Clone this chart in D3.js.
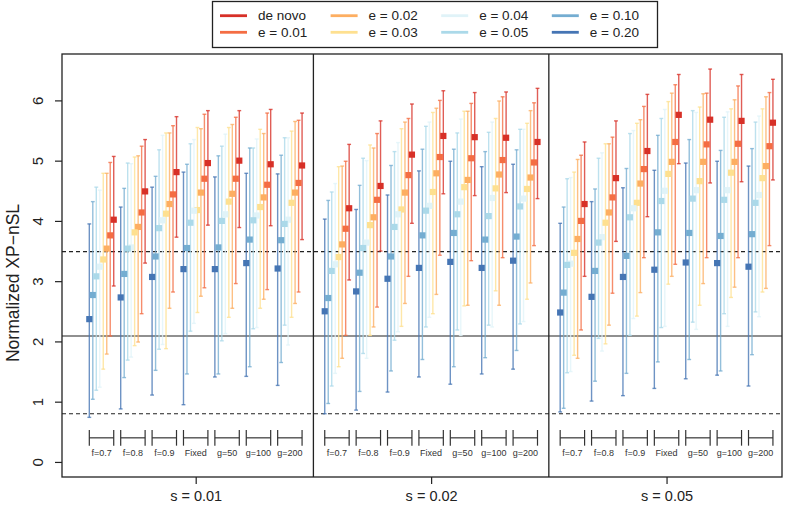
<!DOCTYPE html>
<html><head><meta charset="utf-8">
<script src="https://cdn.jsdelivr.net/npm/d3@7"></script>
<style>
html,body{margin:0;padding:0;background:#fff;}
svg{display:block;font-family:"Liberation Sans",Arial,Helvetica,sans-serif;}
</style></head>
<body><svg id="chart" width="800" height="507"></svg>
<script>
// ---------- data ----------
const seriesNames = ["de novo","e = 0.01","e = 0.02","e = 0.03","e = 0.04","e = 0.05","e = 0.10","e = 0.20"];
const seriesColors = ["#d73027","#f46d43","#fdae61","#fee090","#e0f3f8","#abd9e9","#74add1","#4575b4"];
const panelLabels = ["s = 0.01","s = 0.02","s = 0.05"];
const groupLabels = ["f=0.7","f=0.8","f=0.9","Fixed","g=50","g=100","g=200"];
const yTicks = [0,1,2,3,4,5,6];
const refSolid = 2.09;
const refDashed = [3.49, 0.80];

// each row: one group; values in series order (de novo ... e = 0.20)
const meanS1 = [
  [4.02,3.76,3.54,3.36,3.24,3.08,2.77,2.37],
  [4.49,4.14,3.90,3.81,3.56,3.54,3.12,2.73],
  [4.81,4.44,4.28,4.12,4.01,3.88,3.41,3.07],
  [4.96,4.70,4.47,4.18,4.17,3.97,3.55,3.20],
  [5.00,4.70,4.45,4.32,4.11,4.00,3.56,3.20],
  [4.94,4.60,4.39,4.23,4.09,4.01,3.69,3.30],
  [4.92,4.63,4.47,4.30,4.02,3.95,3.68,3.21]];
const hiS1 = [
  [5.07,4.97,4.79,4.79,4.51,4.56,4.32,3.95],
  [5.35,5.24,5.08,5.06,4.95,4.96,4.54,4.23],
  [5.73,5.58,5.46,5.46,5.42,5.18,4.74,4.56],
  [5.83,5.77,5.53,5.55,5.35,5.28,4.94,4.81],
  [5.83,5.72,5.60,5.55,5.44,5.24,5.08,4.73],
  [5.85,5.79,5.45,5.52,5.36,5.21,5.21,4.79],
  [5.79,5.67,5.65,5.49,5.38,5.38,5.09,4.78]];
const loS1 = [
  [2.92,2.09,1.79,1.54,1.24,1.19,1.04,0.74],
  [3.30,2.46,1.99,1.93,1.74,1.69,1.40,0.88],
  [3.73,2.82,2.55,1.88,1.95,1.87,1.52,1.11],
  [3.93,2.89,2.75,2.48,2.30,2.17,1.46,0.95],
  [3.89,2.96,2.55,2.40,2.13,2.01,1.46,1.41],
  [3.92,2.86,2.70,2.55,2.23,2.21,1.58,1.42],
  [3.69,2.82,2.63,2.40,1.94,2.27,1.65,1.27]];

const meanS2 = [
  [4.21,3.87,3.61,3.40,3.28,3.17,2.72,2.50],
  [4.58,4.35,4.06,3.93,3.64,3.55,3.14,2.83],
  [5.10,4.76,4.47,4.19,4.11,3.90,3.41,3.04],
  [5.41,5.06,4.79,4.48,4.25,4.17,3.76,3.22],
  [5.39,5.04,4.68,4.56,4.32,4.11,3.80,3.32],
  [5.38,5.01,4.77,4.54,4.38,4.08,3.69,3.22],
  [5.31,4.97,4.72,4.53,4.37,4.24,3.74,3.34]];
const hiS2 = [
  [5.27,4.99,4.91,4.90,4.62,4.48,4.34,4.03],
  [5.66,5.45,5.21,5.26,5.00,5.04,4.59,4.19],
  [5.94,5.70,5.64,5.53,5.30,5.15,4.92,4.43],
  [6.16,6.00,5.87,5.80,5.64,5.57,5.19,4.83],
  [6.13,5.95,5.82,5.82,5.69,5.46,5.19,4.99],
  [6.14,6.06,5.99,5.70,5.64,5.47,5.15,4.90],
  [6.20,5.96,5.83,5.62,5.52,5.52,5.18,4.94]];
const loS2 = [
  [3.02,2.10,1.72,1.58,1.47,1.26,0.97,0.80],
  [3.50,2.57,2.24,2.10,1.72,1.80,1.17,0.86],
  [3.96,3.08,2.63,2.25,2.16,2.02,1.51,1.16],
  [4.45,3.43,2.78,2.46,2.40,2.24,1.70,1.41],
  [4.42,3.34,2.60,2.59,2.10,2.19,1.58,1.29],
  [4.47,3.39,2.60,2.84,2.24,2.27,1.73,1.46],
  [4.37,3.59,2.97,2.70,2.33,2.29,1.85,1.54]];

const meanS3 = [
  [4.28,4.00,3.70,3.47,3.29,3.27,2.81,2.48],
  [4.71,4.39,4.14,3.97,3.73,3.64,3.17,2.74],
  [5.16,4.86,4.62,4.30,4.21,4.06,3.42,3.07],
  [5.76,5.31,4.98,4.78,4.50,4.33,3.81,3.19],
  [5.68,5.27,4.98,4.66,4.51,4.37,3.80,3.31],
  [5.66,5.28,4.98,4.80,4.51,4.35,3.75,3.30],
  [5.63,5.24,4.91,4.71,4.43,4.30,3.78,3.24]];
const hiS3 = [
  [5.31,5.09,5.02,4.81,4.72,4.70,4.23,3.96],
  [5.66,5.39,5.28,5.28,5.13,5.04,4.53,4.32],
  [6.10,5.90,5.68,5.62,5.50,5.45,4.87,4.55],
  [6.43,6.26,6.12,5.98,5.85,5.70,5.42,4.84],
  [6.52,6.12,6.11,5.89,5.80,5.83,5.35,4.96],
  [6.43,6.24,6.01,5.86,5.81,5.72,5.17,4.99],
  [6.35,6.13,6.06,5.86,5.74,5.64,5.20,4.91]];
const loS3 = [
  [3.08,2.19,1.72,1.77,1.50,1.48,0.89,0.83],
  [3.66,2.80,2.27,1.96,1.84,2.05,1.34,1.01],
  [4.07,3.39,2.81,2.42,2.38,2.10,1.47,1.10],
  [4.95,3.28,3.08,2.95,2.25,2.23,1.66,1.22],
  [4.63,3.39,2.96,2.60,2.20,2.32,1.70,1.38],
  [4.65,3.39,2.90,2.73,2.25,2.46,1.51,1.44],
  [4.68,3.59,2.88,2.82,2.41,2.49,1.78,1.26]];

const meanAll = [meanS1, meanS2, meanS3];
const hiAll = [hiS1, hiS2, hiS3];
const loAll = [loS1, loS2, loS3];

// ---------- layout ----------
const svg = d3.select("#chart");
const FONT = '"Liberation Sans", Arial, Helvetica, sans-serif';
const PANEL_STEP = 67.5, GROUP_STEP = 9, NS = seriesNames.length;
const pos = (p, g, k) => p * PANEL_STEP + g * GROUP_STEP + (NS - 1 - k);

const x = d3.scaleLinear().domain([-7.83, 198.6]).range([62, 782]);
const y = d3.scaleLinear().domain([-0.25, 6.77]).range([477, 54]);

const records = [];
panelLabels.forEach((pl, p) => {
  groupLabels.forEach((gl, g) => {
    seriesNames.forEach((sn, k) => {
      records.push({p, g, k, m: meanAll[p][g][k], lo: loAll[p][g][k], hi: hiAll[p][g][k]});
    });
  });
});

const plot = svg.append("g");

// reference lines
plot.append("line").attr("x1", 62).attr("x2", 782)
  .attr("y1", y(refSolid)).attr("y2", y(refSolid))
  .attr("stroke", "#222").attr("stroke-width", 1.2);
refDashed.forEach(v => {
  plot.append("line").attr("x1", 62).attr("x2", 782)
    .attr("y1", y(v)).attr("y2", y(v))
    .attr("stroke", "#222").attr("stroke-width", 1.2)
    .attr("stroke-dasharray", "4,3");
});

// whiskers
const capW = 1.9;
const wg = plot.append("g");
records.forEach(d => {
  const cx = x(pos(d.p, d.g, d.k));
  const c = seriesColors[d.k];
  const g = wg.append("g").attr("stroke", c).attr("stroke-opacity", 0.78).attr("stroke-width", 1.4);
  g.append("line").attr("x1", cx).attr("x2", cx).attr("y1", y(d.lo)).attr("y2", y(d.hi));
  g.append("line").attr("x1", cx - capW).attr("x2", cx + capW).attr("y1", y(d.lo)).attr("y2", y(d.lo));
  g.append("line").attr("x1", cx - capW).attr("x2", cx + capW).attr("y1", y(d.hi)).attr("y2", y(d.hi));
});

// squares
const sq = 6.2;
plot.append("g").selectAll("rect").data(records).join("rect")
  .attr("x", d => x(pos(d.p, d.g, d.k)) - sq / 2)
  .attr("y", d => y(d.m) - sq / 2)
  .attr("width", sq).attr("height", sq)
  .attr("fill", d => seriesColors[d.k]);

// group brackets and labels
const bg = plot.append("g");
panelLabels.forEach((pl, p) => {
  groupLabels.forEach((gl, g) => {
    const x0 = x(pos(p, g, NS - 1)), x1 = x(pos(p, g, 0));
    bg.append("line").attr("x1", x0).attr("x2", x1).attr("y1", y(0.40)).attr("y2", y(0.40))
      .attr("stroke", "#333").attr("stroke-width", 1.2);
    [x0, x1].forEach(xx => bg.append("line").attr("x1", xx).attr("x2", xx)
      .attr("y1", y(0.27)).attr("y2", y(0.53)).attr("stroke", "#333").attr("stroke-width", 1.2));
    bg.append("text").attr("x", (x0 + x1) / 2).attr("y", y(0.15)).attr("dy", "0.35em")
      .attr("text-anchor", "middle").style("font-size", "9px").attr("fill", "#333").text(gl);
  });
});

// frame and separators
plot.append("rect").attr("x", 62).attr("y", 54).attr("width", 720).attr("height", 423)
  .attr("fill", "none").attr("stroke", "#222").attr("stroke-width", 1.3);
[1, 2].forEach(p => {
  const xs = x(p * PANEL_STEP - (PANEL_STEP - (groupLabels.length - 1) * GROUP_STEP - (NS - 1)) / 2);
  plot.append("line").attr("x1", xs).attr("x2", xs).attr("y1", 54).attr("y2", 477)
    .attr("stroke", "#222").attr("stroke-width", 1.3);
});

// y axis
const yAxis = svg.append("g").attr("transform", "translate(62,0)")
  .call(d3.axisLeft(y).tickValues(yTicks).tickSize(7).tickFormat(d3.format("d")));
yAxis.attr("font-family", FONT).attr("font-size", null);
yAxis.select(".domain").remove();
yAxis.selectAll("line").attr("stroke", "#222").attr("stroke-width", 1.2);
yAxis.selectAll("text").style("font-size", "15px").attr("fill", "#222")
  .attr("x", 0).attr("y", 0).attr("dy", "0.35em").attr("text-anchor", "middle")
  .attr("transform", "translate(-24,0) rotate(-90)");

svg.append("text").attr("transform", "translate(13,283) rotate(-90)")
  .attr("text-anchor", "middle").attr("dy", "0.35em").style("font-size", "17.5px").attr("fill", "#222")
  .text("Normalized XP\u2212nSL");

// bottom axis
const centers = panelLabels.map((pl, p) => pos(p, 3, 3.5));
const xAxis = svg.append("g").attr("transform", "translate(0,477)")
  .call(d3.axisBottom(x).tickValues(centers).tickSize(7).tickFormat((d, i) => panelLabels[i]));
xAxis.attr("font-family", FONT).attr("font-size", null);
xAxis.select(".domain").remove();
xAxis.selectAll("line").attr("stroke", "#222").attr("stroke-width", 1.2);
xAxis.selectAll("text").style("font-size", "14.5px").attr("fill", "#222").attr("y", 14).attr("dy", "0.71em");

// legend
const lg = svg.append("g");
lg.append("rect").attr("x", 212.5).attr("y", 1.5).attr("width", 445).attr("height", 46)
  .attr("fill", "#fff").attr("stroke", "#222").attr("stroke-width", 1.3);
seriesNames.forEach((sn, k) => {
  const col = Math.floor(k / 2), row = k % 2;
  const lx = 220 + col * 110.6, ly = 15.7 + row * 16.6;
  lg.append("line").attr("x1", lx).attr("x2", lx + 27).attr("y1", ly).attr("y2", ly)
    .attr("stroke", seriesColors[k]).attr("stroke-width", 2.8);
  lg.append("text").attr("x", lx + 38).attr("y", ly).attr("dy", "0.35em")
    .style("font-size", "13.5px").attr("fill", "#222").text(sn);
});
</script></body></html>
